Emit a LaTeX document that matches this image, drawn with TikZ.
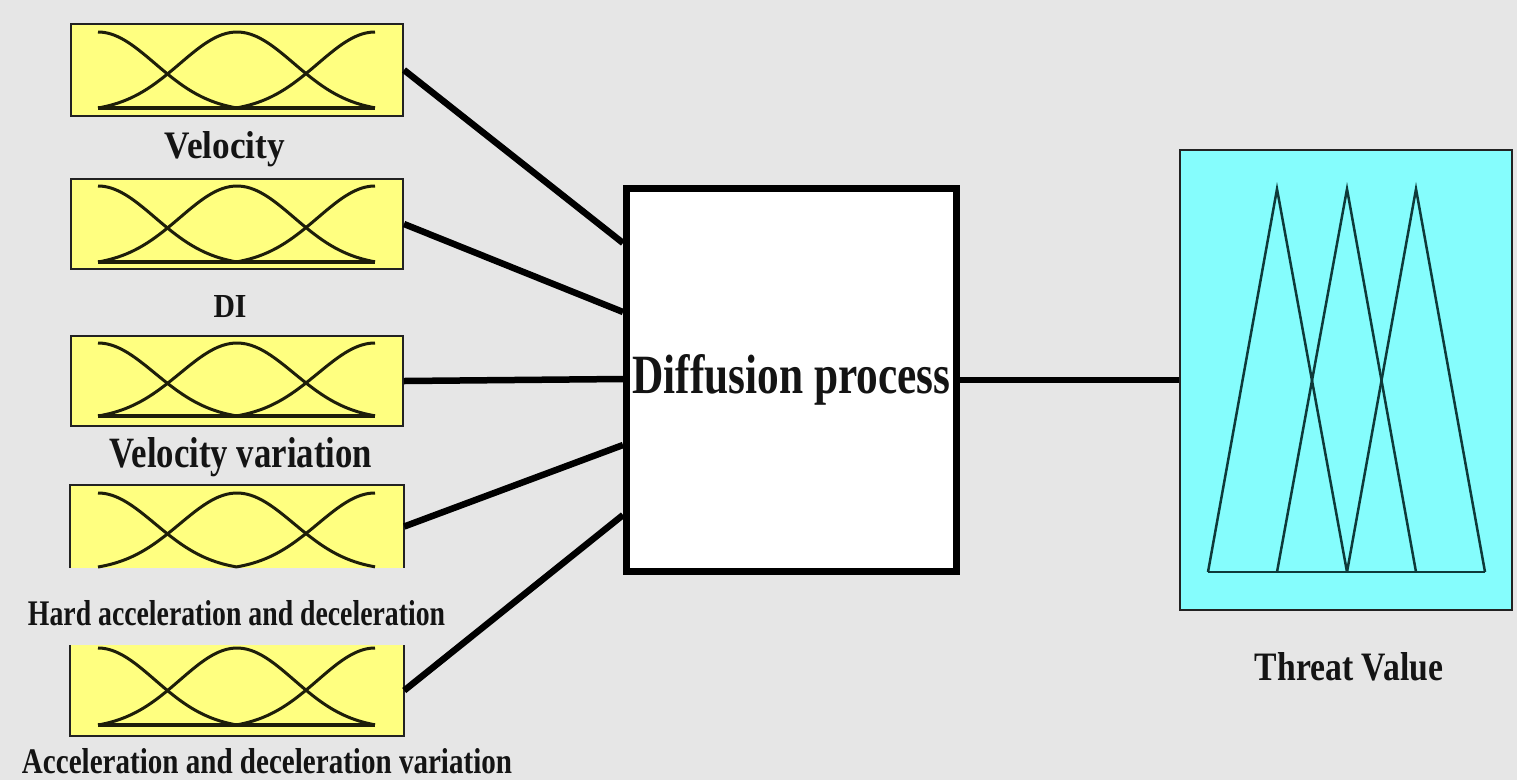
\documentclass[tikz,border=0pt]{standalone}
\usepackage{fontspec}
\setmainfont{Liberation Serif}
\usepackage{graphicx}
\usetikzlibrary{calc}

\definecolor{bg}{HTML}{E6E6E6}
\definecolor{mfyellow}{HTML}{FFFF80}
\definecolor{mfcyan}{HTML}{85FDFD}
\definecolor{edge}{HTML}{222222}
\definecolor{curve}{HTML}{1E1E0A}
\definecolor{tri}{HTML}{0E3A3A}
\definecolor{ink}{HTML}{141414}

% bold label squeezed to a given width and height (in pt)
\newcommand{\fitlabel}[3]{\resizebox{#1pt}{#2pt}{\bfseries #3}}

% three Gaussian membership functions between peak row #1 and foot row #2,
% shifted so that each tail reaches the foot exactly
\newcommand{\gaussset}[2]{%
  \foreach \c/\a/\b in {98/98/237, 237/98/375, 375/237/375}{%
    \draw[mf] plot[domain=\a:\b, samples=70, smooth]
      (\x, {#2-(#2-#1)*(exp(-0.5*((\x-\c)/57)^2)-0.051)/0.949});
  }}

\begin{document}
\begin{tikzpicture}[x=1pt, y=-1pt,
  panel/.style={fill=mfyellow, draw=edge, line width=2pt, inner sep=0pt,
                minimum width=332pt},
  bare/.style={fill=mfyellow, draw=none, inner sep=0pt, minimum width=334pt},
  rim/.style={draw=edge, line width=2pt},
  mf/.style={draw=curve, line width=3pt},
  foot/.style={draw=curve, line width=3.2pt},
  tri/.style={draw=tri, line width=2.5pt, line join=miter},
  link/.style={draw=black, line width=6.5pt},
  lbl/.style={inner sep=0pt, text=ink, anchor=base},
  proc/.style={fill=white, draw=black, line width=7pt, inner sep=0pt,
               minimum width=330pt, minimum height=383pt, text=ink},
  outbox/.style={fill=mfcyan, draw=edge, line width=2.2pt, inner sep=0pt,
                 minimum width=332pt, minimum height=460pt}
]
\fill[bg] (0,0) rectangle (1517,780);
\useasboundingbox (0,0) rectangle (1517,780);

% input panels
\node[panel, minimum height=92pt] (p1) at (237,70) {};
\node[panel, minimum height=90pt] (p2) at (237,224) {};
\node[panel, minimum height=90pt] (p3) at (237,381) {};
\node[bare,  minimum height=83pt] (p4) at (237,526.5) {};
\node[bare,  minimum height=91pt] (p5) at (237,690.5) {};
\draw[rim] (p4.south west) |- (p4.north east) -- (p4.south east);
\draw[rim] (p5.north west) -- (p5.south west) -- (p5.south east) -- (p5.north east);

\gaussset{32}{108}
\draw[foot] (98,108) -- (375,108);
\gaussset{186}{262}
\draw[foot] (98,262) -- (375,262);
\gaussset{343}{416}
\draw[foot] (98,416) -- (375,416);
\gaussset{493}{567}
\gaussset{648}{725}
\draw[foot] (98,725) -- (375,725);

% input labels
\node[lbl] (l1) at (225,158) {\fitlabel{120}{27}{Velocity}};
\node[lbl] (l2) at (230,317) {\fitlabel{33}{22}{DI}};
\node[lbl] (l3) at (241,467) {\fitlabel{262}{30}{Velocity variation}};
\node[lbl] (l4) at (236.5,625) {\fitlabel{417}{25}{Hard acceleration and deceleration}};
\node[lbl] (l5) at (267,773) {\fitlabel{490}{25}{Acceleration and deceleration variation}};

% inference block
\node[proc] (dp) at (791.5,380) {\fitlabel{318}{39}{Diffusion process}};
\coordinate (in1) at ([yshift=137pt]dp.west);
\coordinate (in2) at ([yshift=68pt]dp.west);
\coordinate (in3) at ([yshift=1pt]dp.west);
\coordinate (in4) at ([yshift=-65pt]dp.west);
\coordinate (in5) at ([yshift=-135pt]dp.west);

\draw[link] (p1.east) -- (in1);
\draw[link] (p2.east) -- (in2);
\draw[link] (p3.east) -- (in3);
\draw[link] (p4.east) -- (in4);
\draw[link] (p5.east) -- (in5);

% output panel
\node[outbox] (tv) at (1346,380) {};
\draw[link] (dp.east) -- (tv.west);
\draw[tri] (1208,572) -- (1277,189) -- (1347,572);
\draw[tri] (1277,572) -- (1347,189) -- (1416,572);
\draw[tri] (1347,572) -- (1416,189) -- (1485,572);
\draw[tri] (1208,572) -- (1485,572);
\node[lbl] (l6) at (1349,680) {\fitlabel{188}{28}{Threat Value}};
\end{tikzpicture}
\end{document}
